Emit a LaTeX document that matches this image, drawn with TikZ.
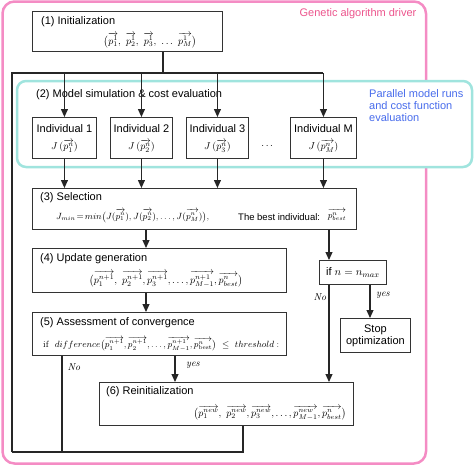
\documentclass[tikz,border=0pt]{standalone}
\usepackage{amsmath}
\usepackage{fontspec}
\setsansfont{Liberation Sans}
\usetikzlibrary{arrows.meta}
\definecolor{gadrv}{RGB}{244,140,196}
\definecolor{gatxt}{RGB}{236,84,140}
\definecolor{parbox}{RGB}{160,228,222}
\definecolor{partxt}{RGB}{72,108,236}
\tikzset{
stage/.style={draw=black!80,line width=0.9pt,anchor=north west,inner sep=0pt},
ttl/.style={font=\sffamily\fontsize{11}{12}\selectfont,inner sep=0pt},
eqn/.style={font=\fontsize{10}{12}\selectfont,inner sep=0pt},
eqs/.style={font=\fontsize{9}{11}\selectfont,inner sep=0pt},
lnk/.style={line width=1.1pt,black!85},
go/.style={lnk,-{Triangle[length=8pt,width=7pt]}},
ans/.style={font=\itshape\fontsize{10}{12}\selectfont,inner sep=0pt}
}
\newcommand{\pv}[2]{\overrightarrow{p_{#1}^{#2}}}
\begin{document}
\begin{tikzpicture}[x=1pt,y=-1pt]
\useasboundingbox (0,0) rectangle (474,467);
\draw[gadrv,line width=2.5pt,rounded corners=12] (2.5,1.5) rectangle (426,463.5);
\draw[parbox,line width=2.5pt,fill=white,rounded corners=9] (17,81) rectangle (472,167);
\node[ttl,text=gatxt] (gaT) at (358,14) {Genetic algorithm driver};
\node[ttl,text=partxt,align=left,anchor=north west] (parT) at (369,89) {Parallel model runs\\and cost function\\evaluation};
\node[stage,minimum width=190,minimum height=40] (init) at (32,11) {};
\node[stage,minimum width=64,minimum height=41] (ind1) at (32,117) {};
\node[stage,minimum width=62,minimum height=41] (ind2) at (110,117) {};
\node[stage,minimum width=62,minimum height=41] (ind3) at (186,117) {};
\node[stage,minimum width=66,minimum height=41] (indM) at (290,117) {};
\node[stage,minimum width=324,minimum height=41] (sel) at (32,188) {};
\node[stage,minimum width=254,minimum height=44] (upd) at (32,248) {};
\node[stage,minimum width=67,minimum height=24] (ifb) at (319,260) {};
\node[stage,minimum width=254,minimum height=43] (conv) at (32,312) {};
\node[stage,minimum width=70,minimum height=34] (stop) at (340,318) {};
\node[stage,minimum width=254,minimum height=43] (reinit) at (99,382) {};
\node[ttl,anchor=west] (initT) at (41,22) {(1) Initialization};
\node[eqn] (initE) at (150,40) {$\bigl(\pv11,\ \pv21,\ \pv31,\ \dots\ \pv M1\bigr)$};
\node[ttl,anchor=west] (simT) at (36,95) {(2) Model simulation \& cost evaluation};
\foreach \n/\k in {ind1/1,ind2/2,ind3/3,indM/M}{
\node[ttl] (\n T) at ([yshift=-12]\n.north) {Individual \k};
\node[eqn] (\n J) at ([yshift=-29]\n.north) {$J\,(\pv{\k}{n})$};
}
\node[eqn] (dots) at (268,146) {$\dots$};
\node[ttl,anchor=west] (selT) at (40,198) {(3) Selection};
\node[eqs,anchor=west] (selE) at (56,216) {$J_{min}\!=\!min\bigl(J(\pv1n),J(\pv2n),\dots,J(\pv Mn)\bigr),$};
\node[ttl,font=\sffamily\fontsize{9.5}{11}\selectfont,anchor=west] (bestT) at (238,217) {The best individual:};
\node[eqs] (bestE) at (337,215) {$\pv{best}{n}$};
\node[ttl,anchor=west] (updT) at (40,259) {(4) Update generation};
\node[eqn] (updE) at (166,279) {$\bigl(\pv1{n+1},\ \pv2{n+1},\pv3{n+1},\dots,\pv{M-1}{n+1},\pv{best}{n}\bigr)$};
\node[ttl] (ifT) at (ifb.center) {if $n=n_{max}$};
\node[ttl,anchor=west] (convT) at (40,323) {(5) Assessment of convergence};
\node[eqs,anchor=west] (convE) at (43,344) {$\mathrm{if}\ \ difference\bigl(\pv1{n+1},\pv2{n+1},\dots,\pv{M-1}{n+1},\pv{\mathrm{best}}{n}\bigr)\ \leq\ threshold:$};
\node[ttl,align=center] (stopT) at (stop.center) {Stop\\optimization};
\node[ttl,anchor=west] (reT) at (106,392) {(6) Reinitialization};
\node[eqn] (reE) at (270,413) {$\bigl(\pv1{new},\ \pv2{new},\pv3{new},\dots,\pv{M-1}{new},\pv{best}{n}\bigr)$};
\coordinate (busL) at (12,73);
\coordinate (split) at (163,73);
\coordinate (loopB) at (12,452);
\coordinate (spine) at (146,0);
\coordinate (bestX) at (329,0);
\coordinate (yesX) at (370,0);
\coordinate (noA) at (62,0);
\coordinate (yesA) at (175,0);
\coordinate (backX) at (243,0);
\draw[lnk] (init.south -| split) -- (split);
\draw[lnk] (loopB) -- (busL) -- (busL -| indM.north);
\foreach \n in {ind1,ind2,ind3,indM}{
\draw[go] (\n.north |- busL) -- (\n.north);
\draw[go] (\n.south) -- (\n.south |- sel.north);
}
\draw[go] (sel.south -| spine) -- (upd.north -| spine);
\draw[go] (upd.south -| spine) -- (conv.north -| spine);
\draw[go] (sel.south -| bestX) -- (ifb.north -| bestX);
\draw[go] (ifb.south -| bestX) -- (reinit.north -| bestX);
\draw[go] (ifb.south -| yesX) -- (stop.north -| yesX);
\draw[go] (conv.south -| yesA) -- (reinit.north -| yesA);
\draw[lnk] (conv.south -| noA) -- (loopB -| noA);
\draw[lnk] (reinit.south -| backX) -- (loopB -| backX) -- (loopB);
\node[ans] (no1) at (320,297) {No};
\node[ans] (yes1) at (383,295) {yes};
\node[ans] (no2) at (74,367) {No};
\node[ans] (yes2) at (193,365) {yes};
\end{tikzpicture}
\end{document}
